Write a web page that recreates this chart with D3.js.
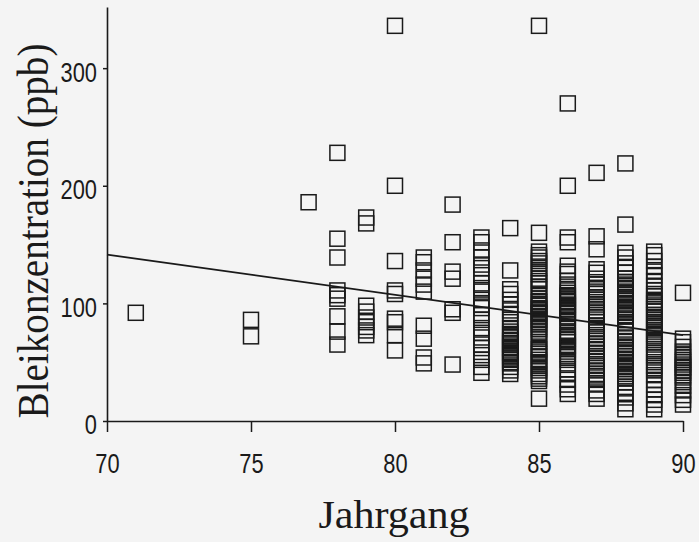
<!DOCTYPE html>
<html><head><meta charset="utf-8">
<script src="https://cdn.jsdelivr.net/npm/d3@7"></script>
<style>
html,body{margin:0;padding:0;background:#f4f4f4;}
svg{display:block;}
</style></head><body>
<svg id="c" width="699" height="542"></svg>
<script>
// Jahrgang (x) and lead concentration values (ppb) per vintage
const jahrgaenge = [71, 75, 77, 78, 79, 80, 81, 82, 83, 84, 85, 86, 87, 88, 89, 90];
const blei71 = [92];
const blei75 = [86, 72];
const blei77 = [186];
const blei78 = [228, 155, 139, 111, 107, 104, 89, 76, 65];
const blei79 = [173, 168, 98, 93, 88, 84, 80, 77, 73];
const blei80 = [336, 200, 136, 111, 108, 87, 84, 73, 60];
const blei81 = [139, 135, 128, 121, 116, 110, 81, 70, 54, 49];
const blei82 = [184, 152, 127, 121, 95, 92, 48];
const blei83 = [156, 152, 145, 139, 133, 130, 124, 117, 113, 110, 103, 99, 96, 90, 86, 79, 75, 71, 65, 62, 56, 52, 46, 41];
const blei84 = [164, 128, 112, 108, 103, 99, 94, 91, 86, 84, 79, 76, 74, 72, 71, 69, 68, 66, 65, 63, 62, 60, 58, 57, 55, 54, 52, 50, 49, 46, 43, 40];
const blei85 = [336, 160, 144, 141, 139, 136, 134, 130, 127, 125, 121, 119, 117, 114, 112, 107, 104, 102, 101, 99, 98, 96, 95, 93, 92, 91, 89, 87, 86, 84, 82, 80, 78, 76, 73, 70, 67, 62, 61, 59, 57, 55, 52, 50, 48, 45, 43, 40, 38, 36, 34, 19];
const blei86 = [270, 200, 156, 152, 132, 127, 125, 119, 116, 111, 109, 107, 106, 105, 104, 102, 101, 99, 98, 97, 95, 94, 92, 91, 89, 88, 86, 84, 80, 75, 73, 72, 70, 69, 67, 64, 63, 61, 59, 57, 55, 52, 49, 44, 41, 35, 31, 27, 23];
const blei87 = [211, 157, 146, 129, 126, 121, 118, 116, 112, 110, 108, 105, 103, 101, 99, 97, 94, 92, 90, 88, 84, 81, 78, 76, 73, 70, 68, 66, 63, 61, 58, 55, 53, 51, 47, 45, 43, 40, 37, 35, 31, 26, 23, 19];
const blei88 = [219, 167, 143, 139, 134, 131, 126, 121, 118, 116, 115, 113, 112, 110, 109, 107, 105, 104, 102, 100, 99, 97, 95, 94, 92, 90, 89, 86, 83, 80, 76, 73, 71, 68, 65, 63, 62, 60, 58, 57, 55, 53, 52, 50, 49, 47, 46, 44, 42, 40, 38, 36, 33, 29, 24, 20, 15, 10];
const blei89 = [144, 141, 136, 131, 127, 124, 119, 115, 111, 108, 106, 103, 101, 100, 97, 95, 93, 90, 88, 86, 83, 81, 79, 76, 74, 72, 69, 67, 65, 61, 58, 56, 54, 50, 47, 45, 43, 39, 35, 31, 27, 22, 18, 14, 10];
const blei90 = [109, 70, 67, 63, 59, 56, 54, 52, 50, 48, 46, 45, 43, 41, 39, 37, 33, 30, 26, 22, 18, 14];
const bleiWerte = [blei71, blei75, blei77, blei78, blei79, blei80, blei81, blei82, blei83, blei84, blei85, blei86, blei87, blei88, blei89, blei90];

// regression line end points
const trendJahr = [70, 90];
const trendBlei = [141.5, 73];

const xTickLabels = [70, 75, 80, 85, 90];
const yTickLabels = [0, 100, 200, 300];

const points = [];
jahrgaenge.forEach((j, i) => bleiWerte[i].forEach(v => points.push({j: j, v: v})));

const svg = d3.select("#c");
const x = d3.scaleLinear().domain([70, 90]).range([107, 683]);
const y = d3.scaleLinear().domain([0, 352]).range([421, 7]);

const ink = "#1a1a1a";
const tickFont = "'Liberation Sans', Arial, sans-serif";
const titleFont = "'Liberation Serif', 'DejaVu Serif', serif";
const narrow = 0.78;

// x axis
const gx = svg.append("g").attr("transform", `translate(0,${y(0)})`)
  .call(d3.axisBottom(x).tickValues(xTickLabels).tickSize(11).tickSizeOuter(0).tickPadding(21).tickFormat(d3.format("d")));
// y axis
const gy = svg.append("g").attr("transform", `translate(${x(70)},0)`)
  .call(d3.axisLeft(y).tickValues(yTickLabels).tickSize(4).tickSizeOuter(0).tickPadding(6).tickFormat(d3.format("d")));

[gx, gy].forEach(g => {
  g.select(".domain").attr("stroke", ink).attr("stroke-width", 1.6);
  g.selectAll(".tick line").attr("stroke", ink).attr("stroke-width", 1.5);
  g.selectAll(".tick text").attr("fill", ink).style("font-family", tickFont).style("font-size", "28px");
});
gx.selectAll(".tick text").attr("transform", `scale(${narrow},1)`);
gy.selectAll(".tick text").attr("dy", "0.46em")
  .attr("x", -10 / narrow).attr("transform", `scale(${narrow},1)`);

// squares
svg.append("g").selectAll("rect").data(points).join("rect")
  .attr("x", d => x(d.j) - 7.5)
  .attr("y", d => y(d.v) - 7.5)
  .attr("width", 15).attr("height", 15)
  .attr("fill", "none").attr("stroke", ink).attr("stroke-width", 1.5);

// regression line
const trend = trendJahr.map((j, i) => ({j: j, v: trendBlei[i]}));
svg.append("path").datum(trend)
  .attr("d", d3.line().x(d => x(d.j)).y(d => y(d.v)))
  .attr("fill", "none").attr("stroke", ink).attr("stroke-width", 1.7);

// titles
svg.append("text").attr("transform", "translate(394,528) scale(1.08,1)").attr("text-anchor", "middle")
  .style("font-family", titleFont).style("font-size", "39px").attr("fill", ink)
  .text("Jahrgang");
svg.append("text").attr("transform", "translate(48,231) rotate(-90) scale(0.87,1)").attr("text-anchor", "middle")
  .style("font-family", titleFont).style("font-size", "45px").attr("fill", ink)
  .text("Bleikonzentration (ppb)");
</script>
</body></html>
